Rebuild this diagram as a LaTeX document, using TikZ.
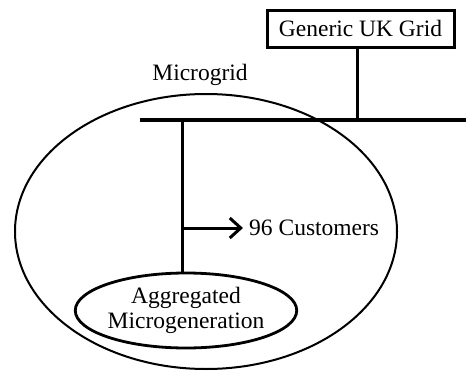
\documentclass[tikz,border=0pt]{standalone}
\usepackage{fontspec}
\setmainfont{Liberation Serif}
\usetikzlibrary{arrows.meta,shapes.geometric}
\begin{document}
\begin{tikzpicture}[x=1pt,y=-1pt,
  lbl/.style={font=\fontsize{23.5}{26}\selectfont, inner sep=0pt},
  gridbox/.style={draw, line width=3pt, minimum width=187pt, minimum height=37pt, inner sep=0pt, font=\fontsize{23.5}{26}\selectfont},
  wire/.style={line width=3pt},
  busline/.style={line width=4.5pt},
  cloud/.style={draw, ellipse, line width=2pt, minimum width=382pt, minimum height=275pt, inner sep=0pt},
  gen/.style={draw, ellipse, line width=2.8pt, minimum width=196pt, minimum height=75pt, inner sep=0pt, align=center, font=\fontsize{23.5}{26}\selectfont}
]
\useasboundingbox (0,0) rectangle (466,372);
\node[cloud] (mg) at (206,231.5) {};
\node[lbl] (mglbl) at (200,75) {Microgrid};
\node[gridbox] (grid) at (360.5,28.5) {Generic UK Grid};
\coordinate (busL) at (140,120);
\coordinate (busR) at (466,120);
\coordinate (busG) at (357,120);
\coordinate (busM) at (182,120);
\draw[busline] (busL) -- (busR);
\draw[wire] (grid.south -| busG) -- (busG);
\node[gen] (agg) at (186,310.5) {Aggregated\\[-1pt]Microgeneration};
\draw[wire] (busM) -- (busM |- agg.north);
\coordinate (tap) at (182,228);
\node[lbl, anchor=west] (cust) at (249,228) {96 Customers};
\draw[wire, -{Straight Barb[length=11pt,width=20pt,line width=3pt]}] (tap) -- (243,228);
\end{tikzpicture}
\end{document}
